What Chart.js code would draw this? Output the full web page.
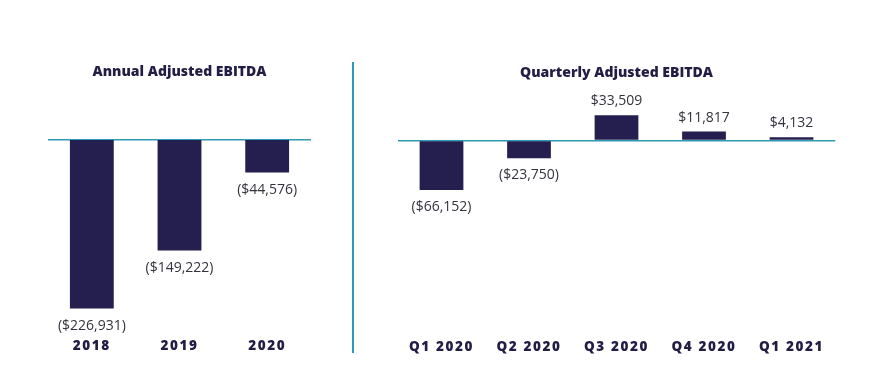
<!DOCTYPE html>
<html>
<head>
<meta charset="utf-8">
<script src="https://cdn.jsdelivr.net/npm/chart.js@4.4.1/dist/chart.umd.min.js"></script>
<style>
  html, body { margin: 0; padding: 0; background: #ffffff; }
  body { width: 887px; height: 381px; position: relative; overflow: hidden; }
  #wrapA { position: absolute; left: 0; top: 0; width: 353px; height: 381px; }
  #wrapQ { position: absolute; left: 353px; top: 0; width: 534px; height: 381px; }
  #divider { position: absolute; left: 352px; top: 62px; width: 2px; height: 291px; background: #2f9ab3; }
</style>
</head>
<body>
<div id="wrapA"><canvas id="annual"></canvas></div>
<div id="divider"></div>
<div id="wrapQ"><canvas id="quarterly"></canvas></div>
<script>
const annualCategories = ['2018', '2019', '2020'];
const annualValues = [-226931, -149222, -44576];
const annualTitle = 'Annual Adjusted EBITDA';

const quarterCategories = ['Q1 2020', 'Q2 2020', 'Q3 2020', 'Q4 2020', 'Q1 2021'];
const quarterValues = [-66152, -23750, 33509, 11817, 4132];
const quarterTitle = 'Quarterly Adjusted EBITDA';

const NAVY = '#241f4e';
const TEAL = '#2f9ab3';
const FONT = "'Open Sans', 'Noto Sans', sans-serif";

function fmt(v) {
  const s = '$' + Math.abs(v).toLocaleString('en-US');
  return v < 0 ? '(' + s + ')' : s;
}

const labelPlugin = {
  id: 'valueLabels',
  afterDatasetsDraw(chart) {
    const ctx = chart.ctx;
    const meta = chart.getDatasetMeta(0);
    const data = chart.data.datasets[0].data;
    ctx.save();
    ctx.letterSpacing = '0px';
    ctx.font = "400 14px " + FONT;
    ctx.fillStyle = '#33333d';
    ctx.textAlign = 'center';
    ctx.textBaseline = 'middle';
    meta.data.forEach((bar, i) => {
      const v = data[i];
      const y = v < 0 ? bar.y + 17 : bar.y - 14;
      ctx.fillText(fmt(v), bar.x, y);
    });
    ctx.restore();
    ctx.letterSpacing = '1.6px';
  },
  afterDraw(chart) {
    chart.ctx.letterSpacing = '0px';
  }
};

function makeChart(id, cats, vals, title, pad, titlePadTop, titlePadBottom, tickPad) {
  return new Chart(document.getElementById(id), {
    type: 'bar',
    data: {
      labels: cats,
      datasets: [{
        data: vals,
        backgroundColor: NAVY,
        borderWidth: 0,
        barPercentage: 0.5,
        categoryPercentage: 1.0
      }]
    },
    options: {
      responsive: true,
      maintainAspectRatio: false,
      animation: false,
      devicePixelRatio: 1,
      layout: { padding: pad },
      plugins: {
        legend: { display: false },
        tooltip: { enabled: false },
        title: {
          display: true,
          text: title,
          color: '#221d45',
          font: { family: FONT, size: 14, weight: '800', lineHeight: 1.2 },
          padding: { top: titlePadTop, bottom: titlePadBottom }
        }
      },
      scales: {
        x: {
          grid: { display: false, drawTicks: false },
          border: { display: false },
          ticks: {
            z: 1,
            color: '#221d45',
            padding: tickPad,
            font: { family: FONT, size: 13.5, weight: '800', lineHeight: 1.2 },
            maxRotation: 0
          }
        },
        y: {
          min: -250000,
          max: 50000,
          ticks: { display: false, stepSize: 50000 },
          border: { display: false },
          grid: {
            drawTicks: false,
            lineWidth: 1.5,
            color: (c) => (c.tick && c.tick.value === 0) ? TEAL : 'rgba(0,0,0,0)'
          }
        }
      }
    },
    plugins: [labelPlugin]
  });
}

makeChart('annual', annualCategories, annualValues, annualTitle,
  { left: 48, right: 42, top: 0, bottom: 14 }, 63.6, 21.6, 12.5);
makeChart('quarterly', quarterCategories, quarterValues, quarterTitle,
  { left: 44.75, right: 51.75, top: 0, bottom: 14 }, 64.6, 21.6, 11.5);
</script>
</body>
</html>
